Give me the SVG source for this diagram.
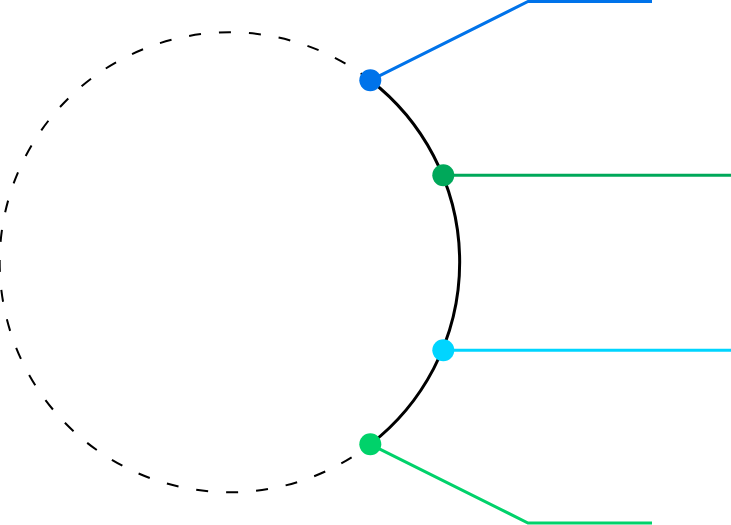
<svg xmlns="http://www.w3.org/2000/svg" width="731" height="525" viewBox="0 0 731 525">
<style>
.arc-d{fill:none;stroke:#000;stroke-width:2;stroke-dasharray:12 18}
.arc-s{fill:none;stroke:#000;stroke-width:3}
.ln{fill:none;stroke-width:3}
</style>
<rect width="731" height="525" fill="#fff"/>
<g id="connectors">
<path class="arc-d" d="M370.3,80.3 A230,230 0 1 0 370.3,444.3"/>
<path class="arc-s" d="M370.3,80.3 A230,230 0 0 1 370.3,444.3"/>
<polyline class="ln" stroke="#0073EA" points="370.3,80.3 528,1.5 652,1.5"/>
<polyline class="ln" stroke="#00A85A" points="443.3,175.3 731,175.3"/>
<polyline class="ln" stroke="#00D5FF" points="443.3,350.3 731,350.3"/>
<polyline class="ln" stroke="#00D26A" points="370.3,444.3 528,523 652,523"/>
</g>
<g id="node-1"><circle cx="370.3" cy="80.3" r="11" fill="#0073EA"/></g>
<g id="node-2"><circle cx="443.3" cy="175.3" r="11" fill="#00A85A"/></g>
<g id="node-3"><circle cx="443.3" cy="350.3" r="11" fill="#00D5FF"/></g>
<g id="node-4"><circle cx="370.3" cy="444.3" r="11" fill="#00D26A"/></g>
</svg>
